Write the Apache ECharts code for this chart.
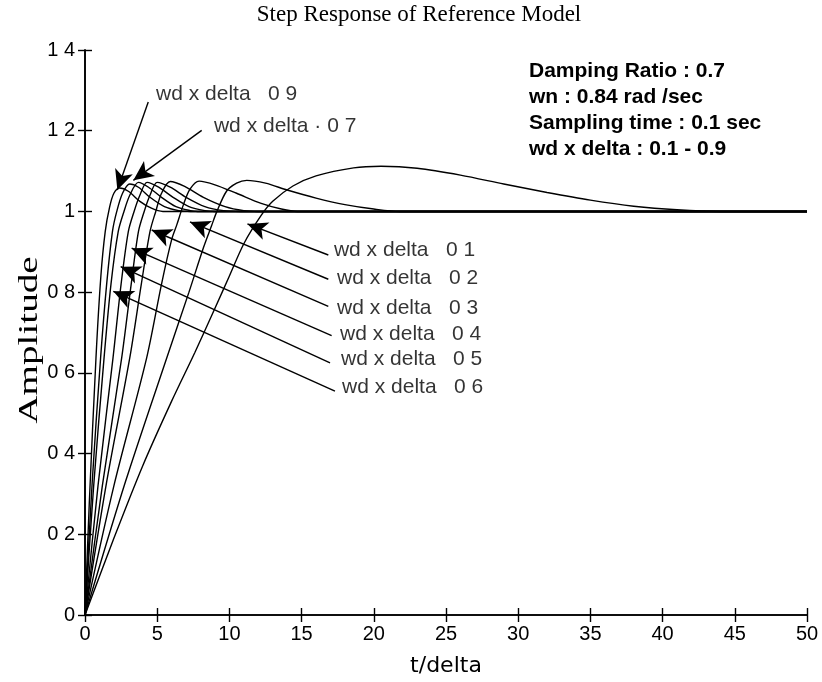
<!DOCTYPE html>
<html><head><meta charset="utf-8">
<script src="https://cdn.jsdelivr.net/npm/echarts@6/dist/echarts.min.js"></script>
<style>html,body{margin:0;padding:0;background:#fff}#main{width:822px;height:682px}</style>
</head><body><div id="main"></div>
<script>
// ---- data ----
const xTickValues = [0, 5, 10, 15, 20, 25, 30, 35, 40, 45, 50];
const yTickLabels = ['0', '0 2', '0 4', '0 6', '0 8', '1', '1 2', '1 4'];

const c09 = [[0,0],[0.3,0.28],[0.76,0.637],[1.1,0.84],[1.4,0.95],[1.7,1.01],[2.0,1.045],[2.4,1.058],[3.0,1.05],[3.8,1.025],[4.6,1.008],[5.4,1.0],[50,1.0]];
const c08 = [[0,0],[0.5,0.33],[1.08,0.637],[1.5,0.82],[1.9,0.95],[2.2,1.0],[2.6,1.045],[3.1,1.068],[3.7,1.06],[4.5,1.035],[5.5,1.012],[6.5,1.002],[7.3,1.0],[50,1.0]];
const c07 = [[0,0],[0.6,0.32],[1.32,0.637],[1.8,0.82],[2.3,0.95],[2.7,1.0],[3.1,1.04],[3.7,1.072],[4.4,1.06],[5.3,1.035],[6.3,1.012],[7.3,1.002],[7.8,1.0],[50,1.0]];
const c06 = [[0,0],[0.9,0.32],[1.94,0.637],[2.5,0.82],[3.0,0.95],[3.4,1.0],[3.8,1.04],[4.3,1.072],[5.1,1.06],[6.1,1.035],[7.2,1.012],[8.3,1.002],[9.0,1.0],[50,1.0]];
const c05 = [[0,0],[1.2,0.32],[2.54,0.637],[3.2,0.82],[3.7,0.95],[4.1,1.0],[4.5,1.04],[5.0,1.072],[5.9,1.06],[7.0,1.035],[8.3,1.012],[9.6,1.002],[10.8,1.0],[50,1.0]];
const c04 = [[0,0],[1.5,0.33],[3.1,0.637],[3.9,0.82],[4.5,0.95],[4.9,1.0],[5.3,1.045],[5.9,1.074],[6.9,1.062],[8.2,1.035],[9.7,1.012],[11.0,1.002],[12.0,1.0],[50,1.0]];
const c03 = [[0,0],[2.0,0.32],[4.27,0.637],[5.3,0.82],[6.0,0.93],[6.35,0.966],[6.8,1.015],[7.27,1.055],[7.9,1.075],[9.0,1.066],[10.5,1.045],[12.2,1.02],[13.6,1.006],[14.7,1.0],[50,1.0]];
const c02 = [[0,0],[2.8,0.33],[5.66,0.637],[7.2,0.80],[8.2,0.91],[8.77,0.965],[9.1,0.997],[9.8,1.05],[10.5,1.07],[11.2,1.077],[12.5,1.07],[14.0,1.053],[16.0,1.033],[18.0,1.017],[20.0,1.006],[21.8,1.0],[50,1.0]];
const c01 = [[0,0],[2,0.19],[4,0.37],[6,0.53],[7.6,0.65],[9,0.76],[10,0.84],[11,0.92],[12.2,0.99],[13,1.025],[14.4,1.063],[16,1.088],[18.6,1.108],[20.5,1.112],[23,1.107],[26,1.09],[29,1.068],[32,1.047],[35,1.028],[38,1.013],[41,1.004],[44,1.0],[50,1.0]];
const curves = [c01, c02, c03, c04, c05, c06, c07, c08, c09];
const curveNames = ['0.1','0.2','0.3','0.4','0.5','0.6','0.7','0.8','0.9'];

// annotation texts and their anchor points (data coordinates)
const noteTexts = ['wd x delta   0 1','wd x delta   0 2','wd x delta   0 3','wd x delta   0 4','wd x delta   0 5','wd x delta   0 6','wd x delta \u00b7 0 7','wd x delta   0 9'];
const noteAnchor = [[17.24,0.904],[17.45,0.835],[17.45,0.760],[17.66,0.696],[17.73,0.635],[17.80,0.565],[8.93,1.210],[4.92,1.291]];
const arrowFrom = [[16.85,0.892],[16.85,0.832],[16.85,0.765],[17.08,0.692],[16.97,0.625],[17.31,0.555],[8.08,1.201],[4.38,1.271]];
const arrowTo   = [[11.25,0.969],[7.27,0.974],[4.62,0.954],[3.23,0.909],[2.47,0.863],[1.96,0.802],[3.35,1.077],[2.24,1.053]];

const infoLines = ['Damping Ratio : 0.7','wn : 0.84 rad /sec','Sampling time : 0.1 sec','wd x delta : 0.1 - 0.9'];
const titleText = 'Step Response of Reference Model';

// ---- chart ----
const chart = echarts.init(document.getElementById('main'), null, {renderer:'canvas'});
const tickFont = {fontFamily:'"Liberation Sans", Arial, sans-serif', fontSize:20, color:'#000'};
const axLine = {show:true, lineStyle:{color:'#000', width:1.6}};
const axTick = {show:true, inside:true, length:7, lineStyle:{color:'#000', width:1.4}};

const series = curves.map((c, i) => ({
  name: curveNames[i], type:'line', data:c, xAxisIndex:0, yAxisIndex:0,
  showSymbol:false, smooth:0.3, animation:false, silent:true,
  lineStyle:{color:'#000', width:1.4}, z:3
}));

series.push({
  type:'line', data:[], xAxisIndex:0, yAxisIndex:0, silent:true, animation:false,
  markLine:{
    silent:true, animation:false, symbolSize:[14,20],
    lineStyle:{color:'#000', width:1.4, type:'solid'},
    label:{show:false},
    data: arrowFrom.map((f, i) => [{coord:f, symbol:'none'}, {coord:arrowTo[i], symbol:'arrow'}])
  }
});

series.push({
  type:'scatter', xAxisIndex:0, yAxisIndex:0, silent:true, animation:false,
  symbolSize:0,
  data: noteAnchor.map((p, i) => ({value:p, name:noteTexts[i]})),
  label:{show:true, position:'right', distance:0, formatter: p => p.name,
    fontFamily:'"Liberation Sans", Arial, sans-serif', fontSize:21, color:'#000'}
});

chart.setOption({
  backgroundColor:'#fff',
  animation:false,
  grid:{left:85, right:15, top:50, bottom:64, containLabel:false},
  xAxis:[
    {type:'value', min:0, max:50, interval:5, position:'bottom',
     axisLine:axLine, axisTick:axTick, splitLine:{show:false},
     axisLabel:Object.assign({margin:9, formatter:v => xTickValues.indexOf(v) >= 0 ? String(v) : ''}, tickFont),
     name:'t/delta', nameLocation:'middle', nameGap:40,
     nameTextStyle:{fontFamily:'"DejaVu Sans", sans-serif', fontSize:22, color:'#000'}},
    {type:'value', min:0, max:50, interval:5, position:'top',
     axisLine:axLine, axisTick:axTick, axisLabel:{show:false}, splitLine:{show:false}}
  ],
  yAxis:[
    {type:'value', min:0, max:1.4, interval:0.2, position:'left',
     axisLine:axLine, axisTick:axTick, splitLine:{show:false},
     axisLabel:Object.assign({margin:10, formatter:v => yTickLabels[Math.round(v/0.2)]}, tickFont)},
    {type:'value', min:0, max:1.4, interval:0.2, position:'right',
     axisLine:axLine, axisTick:axTick, axisLabel:{show:false}, splitLine:{show:false}}
  ],
  graphic:[
    {type:'text', x:419, y:3, silent:true,
     style:{text:titleText, fontFamily:'"Liberation Serif", "Times New Roman", serif', fontSize:23, fill:'#000', textAlign:'center'}},
    {type:'text', x:30, y:340, rotation:Math.PI/2, scaleX:1.45, silent:true,
     style:{text:'Amplitude', fontFamily:'"Liberation Serif", "Times New Roman", serif', fontSize:27, fill:'#000', textAlign:'center', textVerticalAlign:'middle'}},
    {type:'text', x:529, y:58, silent:true,
     style:{text:infoLines.join('\n'), fontFamily:'"Liberation Sans", Arial, sans-serif', fontWeight:'bold', fontSize:21, lineHeight:26, fill:'#000'}}
  ],
  series: series
});
</script>
</body></html>
